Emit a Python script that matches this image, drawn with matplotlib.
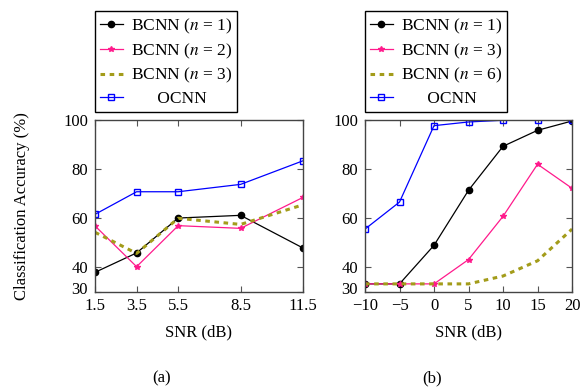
import matplotlib
matplotlib.use('Agg')
import matplotlib.pyplot as plt
import matplotlib.transforms as mtrans

plt.rcParams['font.family'] = 'Liberation Serif'
plt.rcParams['mathtext.fontset'] = 'stix'
plt.rcParams['font.size'] = 11

# (a) accuracy vs SNR, different n
snr_a = [1.5, 3.5, 5.5, 8.5, 11.5]
a_bcnn1 = [38.0, 45.9, 60.1, 61.2, 47.9]
a_bcnn2 = [56.9, 40.3, 57.0, 55.9, 68.5]
a_bcnn3 = [54.3, 45.7, 60.0, 57.5, 65.5]
a_ocnn = [61.6, 70.8, 70.8, 73.8, 83.4]

# (b)
snr_b = [-10, -5, 0, 5, 10, 15, 20]
b_bcnn1 = [33.3, 33.3, 49.0, 71.4, 89.3, 95.8, 99.6]
b_bcnn3 = [33.3, 33.3, 33.3, 43.2, 60.8, 82.0, 72.2]
b_bcnn6 = [33.3, 33.3, 33.3, 33.3, 36.5, 42.7, 55.6]
b_ocnn = [55.6, 66.6, 97.7, 99.2, 99.9, 100.0, 100.0]

yticks = [30, 40, 60, 80, 100]

PINK = '#ff1a8c'
OLIVE = '#a39c1a'


def draw(ax, x, s1, s2, s3, ocnn, labels, xticks):
    ax.plot(x, s1, '-', color='black', lw=0.9, marker='o', ms=4.5, label=labels[0])
    ax.plot(x, s2, '-', color=PINK, lw=0.9, marker='*', ms=4, label=labels[1])
    ax.plot(x, s3, linestyle=(0, (1.5, 1.5)), color=OLIVE, lw=2.2, label=labels[2])
    ax.plot(x, ocnn, '-', color='blue', lw=0.9, marker='s', ms=4.5,
            mfc='none', mew=1.0, label='OCNN')
    ax.set_xlim(x[0], x[-1])
    ax.set_ylim(30, 100)
    ax.set_xticks(xticks)
    ax.set_yticks(yticks)
    ax.tick_params(direction='in', top=True, right=True, length=4,
                   labelsize=12, color='#555555')
    ax.tick_params(axis='y', pad=5)
    ax.tick_params(axis='x', pad=4)
    for sp in ax.spines.values():
        sp.set_color('#444444')
        sp.set_linewidth(1.0)
    ax.set_xlabel('SNR (dB)', fontsize=12, labelpad=8)
    leg = ax.legend(loc='lower left', bbox_to_anchor=(0, 1.045), fontsize=12.5,
                    fancybox=False, edgecolor='black', framealpha=1,
                    handlelength=1.3, borderpad=0.3, labelspacing=0.32,
                    borderaxespad=0, handletextpad=0.45)
    leg.get_frame().set_linewidth(1.0)
    leg.get_texts()[3].set_text('      OCNN')


fig = plt.figure(figsize=(5.8, 3.9), dpi=100)
ax1 = fig.add_axes([0.1638, 0.2513, 0.3586, 0.441])
ax2 = fig.add_axes([0.6293, 0.2513, 0.357, 0.441])

draw(ax1, snr_a, a_bcnn1, a_bcnn2, a_bcnn3, a_ocnn,
     ['BCNN ($n$ = 1)', 'BCNN ($n$ = 2)', 'BCNN ($n$ = 3)'], snr_a)
draw(ax2, snr_b, b_bcnn1, b_bcnn3, b_bcnn6, b_ocnn,
     ['BCNN ($n$ = 1)', 'BCNN ($n$ = 3)', 'BCNN ($n$ = 6)'], snr_b)

# lift the lowest y label a few pixels so it clears the first x label
lift = mtrans.ScaledTranslation(0, 4 / 100, fig.dpi_scale_trans)
for ax in (ax1, ax2):
    lab = ax.get_yticklabels()[0]
    lab.set_transform(lab.get_transform() + lift)

ax1.set_ylabel('Classification Accuracy (%)', fontsize=12, labelpad=24)

fig.text(162 / 580, 1 - 378 / 390, '(a)', ha='center', va='center', fontsize=12)
fig.text(432 / 580, 1 - 378 / 390, '(b)', ha='center', va='center', fontsize=12)

fig.savefig('out.png', dpi=100)
